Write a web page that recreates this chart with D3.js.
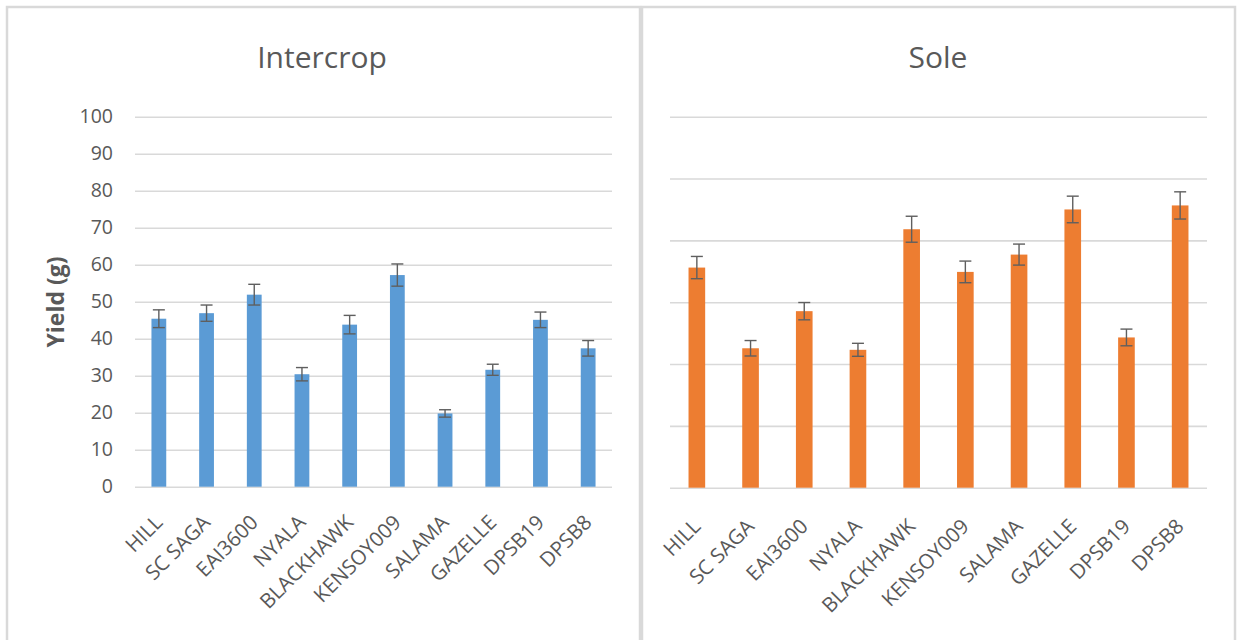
<!DOCTYPE html>
<html>
<head>
<meta charset="utf-8">
<script src="https://cdn.jsdelivr.net/npm/d3@7"></script>
<style>
  html, body { margin: 0; padding: 0; background: #ffffff; }
  svg { display: block; font-family: "Open Sans", "Liberation Sans", sans-serif; }
</style>
</head>
<body>
<svg id="chart" width="1241" height="640"></svg>
<script>
// Soybean variety yields under two cropping systems (mean ± error)
const categories = ["HILL", "SC SAGA", "EAI3600", "NYALA", "BLACKHAWK",
                    "KENSOY009", "SALAMA", "GAZELLE", "DPSB19", "DPSB8"];

const intercropMean = [45.4, 46.9, 51.9, 30.4, 43.8, 57.2, 19.8, 31.6, 45.1, 37.4];
const intercropErr  = [2.4, 2.2, 2.8, 1.8, 2.5, 3.0, 1.0, 1.5, 2.1, 2.1];

const soleMean = [71.2, 45.1, 57.1, 44.6, 83.6, 69.8, 75.4, 90.0, 48.6, 91.3];
const soleErr  = [3.6, 2.5, 2.8, 2.1, 4.2, 3.5, 3.4, 4.3, 2.7, 4.4];

const intercropTicks = [0, 10, 20, 30, 40, 50, 60, 70, 80, 90, 100];
const soleTicks = [0, 20, 40, 60, 80, 100, 120];

const panelTitles = ["Intercrop", "Sole"];
const yAxisTitle = "Yield (g)";

const svg = d3.select("#chart");
const textColor = "#595959";
const gridColor = "#d9d9d9";

// Panel frames
const frames = [
  { x: 7, y: 7, w: 633, h: 700 },
  { x: 642, y: 7, w: 593, h: 700 }
];
frames.forEach(f => {
  svg.append("rect")
    .attr("x", f.x).attr("y", f.y).attr("width", f.w).attr("height", f.h)
    .attr("fill", "none").attr("stroke", gridColor).attr("stroke-width", 2.5);
});

const panels = [
  { title: panelTitles[0], mean: intercropMean, err: intercropErr, ticks: intercropTicks,
    domain: [0, 100], x0: 135, x1: 612, yTop: 116.7, yBot: 486.7,
    color: "#5b9bd5", showTickLabels: true, cx: 322, labelY: 37 },
  { title: panelTitles[1], mean: soleMean, err: soleErr, ticks: soleTicks,
    domain: [0, 120], x0: 670, x1: 1207, yTop: 116.7, yBot: 487.7,
    color: "#ed7d31", showTickLabels: false, cx: 938, labelY: 40 }
];

panels.forEach(p => {
  const g = svg.append("g");

  const x = d3.scaleBand()
    .domain(categories)
    .range([p.x0, p.x1])
    .paddingInner(0.69)
    .paddingOuter(0.345);

  const y = d3.scaleLinear().domain(p.domain).range([p.yBot, p.yTop]);

  // Title
  g.append("text")
    .attr("x", p.cx).attr("y", 68)
    .attr("text-anchor", "middle")
    .attr("fill", textColor)
    .attr("font-size", 30)
    .attr("font-weight", 400)
    .text(p.title);

  // Gridlines + value axis
  const yAxis = d3.axisLeft(y)
    .tickValues(p.ticks)
    .tickSize(-(p.x1 - p.x0))
    .tickPadding(22)
    .tickFormat(p.showTickLabels ? d3.format("d") : () => "");

  const ag = g.append("g")
    .attr("transform", `translate(${p.x0},0)`)
    .call(yAxis);
  ag.select(".domain").remove();
  ag.selectAll(".tick line").attr("stroke", gridColor).attr("stroke-width", 1.6);
  ag.selectAll(".tick text")
    .attr("fill", textColor)
    .attr("font-size", 19.5)
    .attr("font-family", "\"Open Sans\", sans-serif");

  // Bars
  g.selectAll(".bar")
    .data(categories)
    .join("rect")
    .attr("class", "bar")
    .attr("x", d => x(d))
    .attr("width", x.bandwidth())
    .attr("y", (d, i) => y(p.mean[i]))
    .attr("height", (d, i) => y(0) - y(p.mean[i]))
    .attr("fill", p.color);

  // Error bars
  const capHalf = 6;
  const eg = g.selectAll(".err")
    .data(categories)
    .join("g")
    .attr("class", "err")
    .attr("stroke", "#5f5f5f")
    .attr("stroke-width", 1.4);
  eg.append("line")
    .attr("x1", d => x(d) + x.bandwidth() / 2)
    .attr("x2", d => x(d) + x.bandwidth() / 2)
    .attr("y1", (d, i) => y(p.mean[i] + p.err[i]))
    .attr("y2", (d, i) => y(p.mean[i] - p.err[i]));
  [1, -1].forEach(s => {
    eg.append("line")
      .attr("x1", d => x(d) + x.bandwidth() / 2 - capHalf)
      .attr("x2", d => x(d) + x.bandwidth() / 2 + capHalf)
      .attr("y1", (d, i) => y(p.mean[i] + s * p.err[i]))
      .attr("y2", (d, i) => y(p.mean[i] + s * p.err[i]));
  });

  // Category labels, rotated
  g.selectAll(".cat")
    .data(categories)
    .join("text")
    .attr("class", "cat")
    .attr("text-anchor", "end")
    .attr("fill", textColor)
    .attr("font-size", 20.5)
    .attr("transform", d => `translate(${x(d) + x.bandwidth() / 2 + 5},${p.yBot + p.labelY}) rotate(-45)`)
    .text(d => d);
});

// Value axis title
svg.append("text")
  .attr("transform", "translate(64,302) rotate(-90)")
  .attr("text-anchor", "middle")
  .attr("fill", textColor)
  .attr("font-size", 23)
  .attr("font-weight", 700)
  .text(yAxisTitle);
</script>
</body>
</html>
